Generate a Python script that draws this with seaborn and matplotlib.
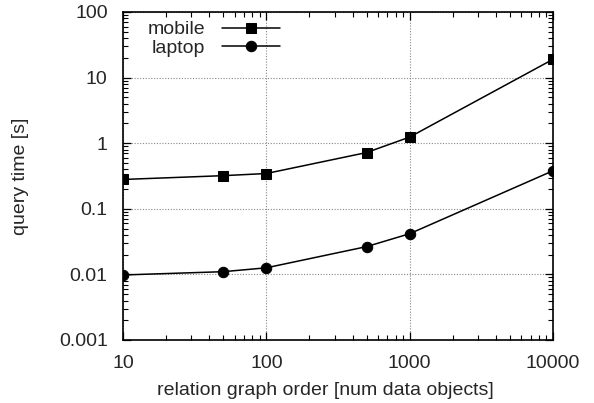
import matplotlib
matplotlib.use("Agg")
import matplotlib.pyplot as plt
import seaborn as sns
import pandas as pd
import numpy as np
from matplotlib.ticker import LogLocator, FixedLocator, FixedFormatter, NullFormatter

sns.set_style("white")
plt.rcParams['font.family'] = ['Liberation Sans', 'DejaVu Sans']

x_values = [10, 50, 100, 500, 1000, 10000]
mobile = [0.28, 0.32, 0.345, 0.72, 1.24, 19.0]
laptop = [0.0098, 0.011, 0.0126, 0.0265, 0.0417, 0.38]
series_names = ["mobile", "laptop"]
x_ticks = [10, 100, 1000, 10000]
x_tick_labels = ["10", "100", "1000", "10000"]
y_ticks = [0.001, 0.01, 0.1, 1, 10, 100]
y_tick_labels = ["0.001", "0.01", "0.1", "1", "10", "100"]

df = pd.DataFrame({
    "x": x_values * 2,
    "y": mobile + laptop,
    "series": [series_names[0]] * len(x_values) + [series_names[1]] * len(x_values),
})

fig = plt.figure(figsize=(5.94, 4.03), dpi=100)
ax = fig.add_axes([123 / 594, 1 - 340 / 403, (553 - 123) / 594, (340 - 12) / 403])

sns.lineplot(data=df, x="x", y="y", hue="series", style="series",
             palette={"mobile": "black", "laptop": "black"},
             markers={"mobile": "s", "laptop": "o"}, dashes=False,
             markersize=7.5, markeredgecolor="black", linewidth=1.1, ax=ax)

ax.set_xscale("log")
ax.set_yscale("log")
ax.set_xlim(10, 10000)
ax.set_ylim(0.001, 100)

fs = 14
ax.xaxis.set_major_locator(FixedLocator(x_ticks))
ax.xaxis.set_major_formatter(FixedFormatter(x_tick_labels))
ax.yaxis.set_major_locator(FixedLocator(y_ticks))
ax.yaxis.set_major_formatter(FixedFormatter(y_tick_labels))
ax.xaxis.set_minor_locator(LogLocator(base=10, subs=np.arange(2, 10), numticks=20))
ax.yaxis.set_minor_locator(LogLocator(base=10, subs=np.arange(2, 10), numticks=20))
ax.xaxis.set_minor_formatter(NullFormatter())
ax.yaxis.set_minor_formatter(NullFormatter())

ax.tick_params(which="both", direction="in", top=True, right=True, bottom=True, left=True,
               color="black", labelsize=fs)
ax.tick_params(which="major", length=6, width=0.9)
ax.tick_params(axis="y", which="major", pad=11)
ax.tick_params(axis="x", which="major", pad=11)
ax.tick_params(which="minor", length=3.5, width=0.8)

ax.grid(True, which="major", color="#888888", linestyle=(0, (1, 1.5)), linewidth=0.8)
ax.set_axisbelow(True)
for s in ax.spines.values():
    s.set_color("black")
    s.set_linewidth(1.2)

ax.set_xlabel("relation graph order [num data objects]", fontsize=fs)
ax.xaxis.set_label_coords((325 - 123) / 430, -(382 - 340) / 328, transform=ax.transAxes)
ax.xaxis.label.set_va("top")
ax.set_ylabel("query time [s]", fontsize=fs)
ax.yaxis.set_label_coords(-(123 - 29) / 430, 0.5, transform=ax.transAxes)

handles, labels = ax.get_legend_handles_labels()
leg = ax.legend(handles, labels, loc="upper right", bbox_to_anchor=(162 / 430, 1.0 - 4 / 328),
                frameon=False, markerfirst=False, fontsize=fs, handlelength=3.0,
                handletextpad=0.85, labelspacing=0.05, borderaxespad=0.15, borderpad=0.1)
for t in leg.get_texts():
    t.set_ha("right")

fig.savefig("out.png", dpi=100)
